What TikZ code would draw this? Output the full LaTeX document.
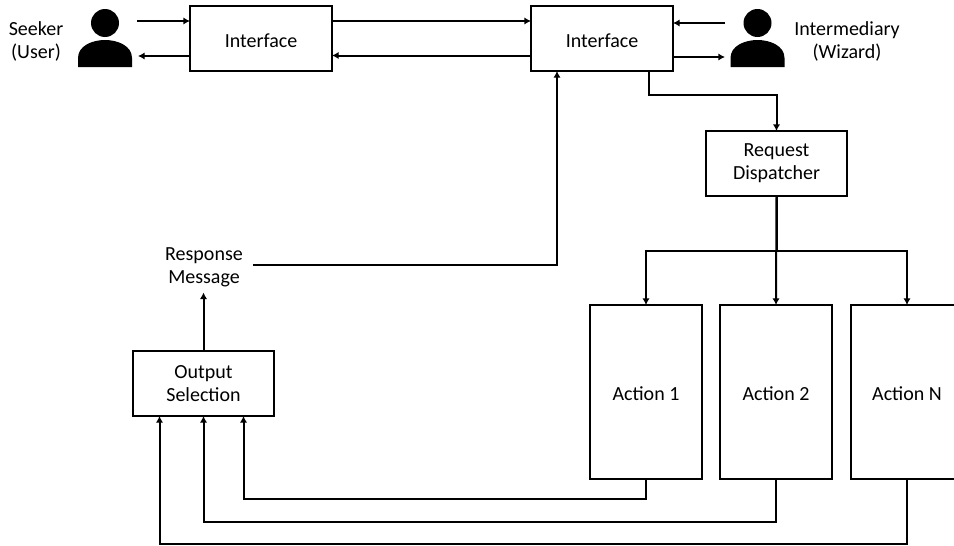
\documentclass[tikz,border=0pt]{standalone}
\usepackage{fontspec}
\setmainfont{Carlito}
\usetikzlibrary{arrows.meta,positioning,calc}
\tikzset{
	block/.style={draw, line width=1.5pt, fill=white, align=center, inner sep=0pt, outer sep=0pt, execute at begin node={\rule{0pt}{13pt}}},
	label/.style={align=center, inner sep=0pt, outer sep=0pt},
	conn/.style={line width=1.5pt, -{Latex[length=5pt,width=5.5pt]}},
	person/.pic={
		\fill (0,0) circle [radius=14];
		\fill (-27,44) -- (-27,35) .. controls (-27,23) and (-13,17) .. (0,17) .. controls (13,17) and (27,23) .. (27,35) -- (27,44) -- cycle;
	}
}
\begin{document}
\begin{tikzpicture}[x=0.75pt, y=-0.75pt, font=\fontsize{15}{17.5}\selectfont]
	\useasboundingbox (0,0) rectangle (954,546);
	\node[block, minimum width=106.5pt, minimum height=48.75pt] (ifaceL) at (261,38.5) {Interface};
	\node[block, minimum width=106.5pt, minimum height=48.75pt] (ifaceR) at (602,38.5) {Interface};
	\node[block, minimum width=105.75pt, minimum height=48.75pt] (dispatcher) at (776.5,163.5) {Request\\Dispatcher};
	\node[block, minimum width=105.75pt, minimum height=48.75pt] (outsel) at (203.5,383.5) {Output\\Selection};
	\node[block, minimum width=84pt, minimum height=130.5pt] (action1) at (646,392) {Action 1};
	\node[block, minimum width=84pt, minimum height=130.5pt] (action2) [right=13.5pt of action1] {Action 2};
	\node[block, minimum width=84pt, minimum height=130.5pt] (actionN) [right=14.25pt of action2] {Action N};
	\node[label] (seeker) at (36,41.5) {Seeker\\(User)};
	\node[label] (wizard) at (847,41.5) {Intermediary\\(Wizard)};
	\node[label, inner xsep=7.5pt, inner ysep=4.25pt] (respmsg) at (204,267) {Response\\Message};
	\pic at (105,23) {person};
	\pic at (757.5,23) {person};

	\coordinate (seekerout) at (137,21);
	\coordinate (seekerin) at (138,56);
	\coordinate (wizardout) at (725,23);
	\coordinate (wizardin) at (725,57);

	\draw[conn] (seekerout) -- (ifaceL.west |- seekerout);
	\draw[conn] (ifaceL.west |- seekerin) -- (seekerin);
	\draw[conn] ($(ifaceL.east)+(0,-17.5)$) -- ($(ifaceR.west)+(0,-17.5)$);
	\draw[conn] ($(ifaceR.west)+(0,17)$) -- ($(ifaceL.east)+(0,17)$);
	\draw[conn] (wizardout) -- (ifaceR.east |- wizardout);
	\draw[conn] (ifaceR.east |- wizardin) -- (wizardin);
	\draw[conn] ($(ifaceR.south)+(47,0)$) |- ($(dispatcher.north)+(0,-36)$) -- (dispatcher.north);
	\draw[conn] (respmsg.east |- 0,265) -| ($(ifaceR.south)+(-45,0)$);
	\draw[conn] (outsel.north) -- (outsel.north |- respmsg.south);
	\draw[conn] (dispatcher.south) -- (action2.north);
	\draw[conn] (dispatcher.south) -- ++(0,55) -| (action1.north);
	\draw[conn] (dispatcher.south) -- ++(0,55) -| (actionN.north);
	\draw[conn] (action1.south) -- ++(0,20) -| ($(outsel.south)+(40,0)$);
	\draw[conn] (action2.south) -- ++(0,43) -| (outsel.south);
	\draw[conn] (actionN.south) -- ++(0,65) -| ($(outsel.south)+(-44,0)$);
\end{tikzpicture}
\end{document}
